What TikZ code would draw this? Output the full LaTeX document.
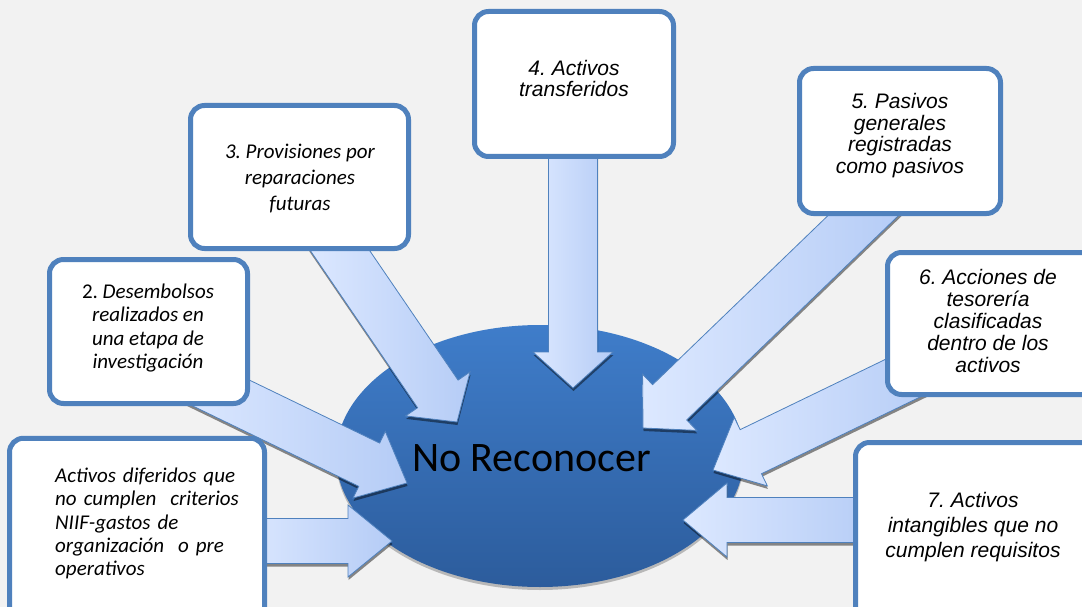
\documentclass[tikz,border=0pt]{standalone}
\usepackage{fontspec}
\setmainfont{Liberation Sans}
\newfontfamily\calib{Carlito}
\usetikzlibrary{calc,shapes.geometric,shadows}
\frenchspacing
\definecolor{bg}{HTML}{F2F2F2}
\definecolor{bord}{HTML}{4F81BD}
\definecolor{ellT}{HTML}{3F7DCA}
\definecolor{ellB}{HTML}{2C5C9C}
\definecolor{arrL}{HTML}{DCE8FF}
\definecolor{arrR}{HTML}{B5CCF6}
\newcommand{\blockarrow}[5]{%
  \coordinate (#1h) at ($(#2)!#5!(#1)$);
  \path[blockarr] ($(#1)!#3!90:(#2)$) -- ($(#1h)!#3!90:(#2)$) -- ($(#1h)!#4!90:(#2)$) -- (#2)
    -- ($(#1h)!#4!-90:(#2)$) -- ($(#1h)!#3!-90:(#2)$) -- ($(#1)!#3!-90:(#2)$) -- cycle;}
\tikzset{
  boxnode/.style={draw=bord, line width=5pt, fill=white, rounded corners=14pt, inner sep=0pt},
  blockarr/.style={draw=bord, line width=0.8pt, left color=arrL, right color=arrR,
    drop shadow={shadow xshift=0.5pt, shadow yshift=-3pt, fill=black, opacity=0.45}},
  artxt/.style={inner sep=0pt, align=center, font=\fontsize{21}{21.7}\selectfont\itshape},
  catxt/.style={inner sep=0pt, font=\calib\fontsize{21}{23.4}\selectfont\itshape}
}
\begin{document}
\begin{tikzpicture}[x=1pt,y=-1pt]
\useasboundingbox (0,0) rectangle (1082,607);
\clip (0,0) rectangle (1082,607);
\fill[bg] (0,0) rectangle (1082,607);

% central ellipse
\node[ellipse, minimum width=408, minimum height=262, inner sep=0pt,
      top color=ellT, bottom color=ellB,
      drop shadow={shadow xshift=0pt, shadow yshift=-3pt, fill=black!50, opacity=0.5}] (ell) at (540,456) {};

% arrow coordinates
\coordinate (a4s) at (573,140);   \coordinate (a4t) at (573,388);
\coordinate (a3s) at (329,234.5); \coordinate (a3t) at (457,422);
\coordinate (a5s) at (888,191.7); \coordinate (a5t) at (643,428);
\coordinate (a6s) at (930,365);   \coordinate (a6t) at (713,470);
\coordinate (a7s) at (880,520);   \coordinate (a7t) at (683,520);
\coordinate (a2s) at (190,378);   \coordinate (a2t) at (407,483);
\coordinate (a1s) at (240,541);   \coordinate (a1t) at (392,541);

\blockarrow{a4s}{a4t}{24.5pt}{40pt}{36pt}
\blockarrow{a3s}{a3t}{24.5pt}{39pt}{34pt}
\blockarrow{a5s}{a5t}{24.5pt}{39pt}{37pt}
\blockarrow{a6s}{a6t}{24.5pt}{38pt}{42pt}
\blockarrow{a7s}{a7t}{22.5pt}{37pt}{44pt}
\blockarrow{a2s}{a2t}{24pt}{37pt}{42pt}
\blockarrow{a1s}{a1t}{22.5pt}{36pt}{44pt}

\node[inner sep=0pt, font=\calib\fontsize{42}{50}\selectfont] (lbl) at (531.5,458.5) {No Reconocer};

% boxes
\node[boxnode, minimum width=255, minimum height=187] (b1) at (137,531.75) {};
\node[boxnode, minimum width=198, minimum height=144] (b2) at (148.5,331.5) {};
\node[boxnode, minimum width=218, minimum height=143] (b3) at (299.5,177) {};
\node[boxnode, minimum width=199, minimum height=145] (b4) at (574,84) {};
\node[boxnode, minimum width=201, minimum height=145] (b5) at (900,141) {};
\node[boxnode, minimum width=210, minimum height=142] (b6) at (992.5,323.5) {};
\node[boxnode, minimum width=242, minimum height=180] (b7) at (976.5,532.5) {};

% texts
\node[catxt, align=left, text width=200, anchor=west] (t1) at (55,523.5)
  {Activos diferidos que\\no cumplen~ criterios\\NIIF-gastos de\\organización~ o pre\\operativos};
\node[catxt, align=center] (t2) at (148,328)
  {{\upshape 2.} Desembolsos\\realizados en\\una etapa de\\investigación};
\node[catxt, align=center, font=\calib\fontsize{21}{26}\selectfont\itshape] (t3) at (300,179)
  {3. Provisiones por\\reparaciones\\futuras};
\node[artxt] (t4) at (574,78.5) {4. Activos\\transferidos};
\node[artxt] (t5) at (900,135.5) {5. Pasivos\\generales\\registradas\\como pasivos};
\node[artxt, font=\fontsize{21}{22}\selectfont\itshape] (t6) at (988,321)
  {6. Acciones de\\tesorería\\clasificadas\\dentro de los\\activos};
\node[artxt, font=\fontsize{21}{25}\selectfont\itshape] (t7) at (973,527)
  {7. Activos\\intangibles que no\\cumplen requisitos};
\end{tikzpicture}
\end{document}
